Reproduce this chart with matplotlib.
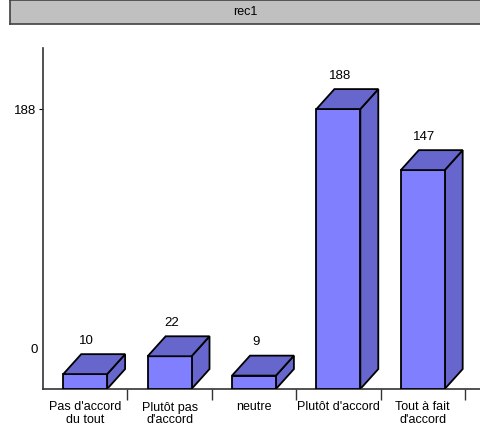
import matplotlib.pyplot as plt
from matplotlib.patches import Polygon

plt.rcParams['font.family'] = ['Liberation Sans', 'DejaVu Sans']

categories = ["Pas d'accord\ndu tout", "Plutôt pas\nd'accord", "neutre",
              "Plutôt d'accord", "Tout à fait\nd'accord"]
values = [10, 22, 9, 188, 147]
title = "rec1"

front_col = '#8080ff'
shade_col = '#6666cc'
W, H, DPI = 481, 434, 100

fig = plt.figure(figsize=(W / DPI, H / DPI), dpi=DPI)

# bandeau de titre gris
band = fig.add_axes([10 / W, 1 - 24 / H, 1 - 10 / W, 24 / H])
band.set_xticks([])
band.set_yticks([])
band.set_facecolor('#c0c0c0')
for s in band.spines.values():
    s.set_color('#404040')
    s.set_linewidth(1.2)
band.text(0.5, 0.5, title, ha='center', va='center', fontsize=9)

# zone du graphique
x0, x1 = 43, 481
y_bot, y_top = 389, 48
ax = fig.add_axes([x0 / W, 1 - y_bot / H, (x1 - x0) / W, (y_bot - y_top) / H])
ax.set_xlim(-0.5, 4.69)
ax.set_ylim(0, 229)
ax.spines['top'].set_visible(False)
ax.spines['right'].set_visible(False)

bw = 0.52   # largeur de la face avant
dx = 0.213  # profondeur en x
dy = 13.4   # profondeur en y

xs = list(range(len(values)))
ax.bar(xs, values, width=bw, color=front_col, edgecolor='black', linewidth=1.3, zorder=3)
for x, v in zip(xs, values):
    l, r = x - bw / 2, x + bw / 2
    top = Polygon([(l, v), (l + dx, v + dy), (r + dx, v + dy), (r, v)],
                  closed=True, facecolor=shade_col, edgecolor='black', lw=1.3, zorder=3)
    side = Polygon([(r, 0), (r, v), (r + dx, v + dy), (r + dx, dy)],
                   closed=True, facecolor=shade_col, edgecolor='black', lw=1.3, zorder=2)
    ax.add_patch(side)
    ax.add_patch(top)
    ax.text(x + 0.02, v + dy + 9, str(v), ha='center', va='center', fontsize=9.5)

# graduations : séparateurs aux limites, libellés au centre
ax.set_xticks([i + 0.5 for i in xs], [''] * len(xs))
ax.set_xticks(xs, categories, minor=True)
ax.tick_params(axis='x', which='major', direction='out', length=8, width=1, color='#333333')
ax.tick_params(axis='x', which='minor', length=0, labelsize=9, pad=9)
for lbl in ax.get_xticklabels(minor=True):
    lbl.set_linespacing(1.1)

ax.set_yticks([188], ['188'])
ax.tick_params(axis='y', direction='out', length=3, labelsize=9.5, pad=2)
ax.annotate('0', xy=(0, 26), xycoords=('axes fraction', 'data'),
            xytext=(-5, 0), textcoords='offset pixels',
            ha='right', va='center', fontsize=9.5)

for s in ('left', 'bottom'):
    ax.spines[s].set_color('#333333')
    ax.spines[s].set_linewidth(1.2)

fig.savefig('out.png', dpi=DPI)
